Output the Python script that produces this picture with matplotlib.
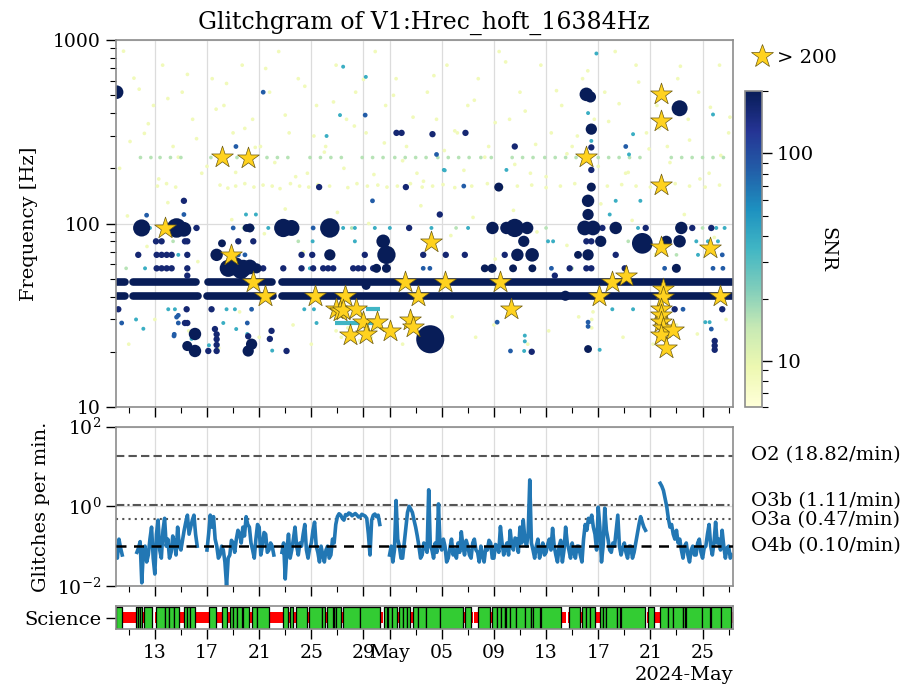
import datetime as dt
import numpy as np
import matplotlib
matplotlib.use("Agg")
import matplotlib.pyplot as plt
import matplotlib.dates as mdates
from matplotlib.colors import LogNorm
from matplotlib.lines import Line2D
from matplotlib.ticker import FixedLocator, NullLocator, NullFormatter, FuncFormatter

plt.rcParams["font.family"] = "DejaVu Serif"
plt.rcParams["mathtext.fontset"] = "dejavuserif"

# ---------------- data (times are days since 2024-04-10 00:00) ----------------
START = dt.datetime(2024, 4, 10)
SPAN = 47.33

# dense glitch bands (runs of loud glitches at fixed frequency)
band_t0 = [0.08, 1.30, 7.10, 12.72, 0.08, 1.30, 6.97, 12.72]
band_t1 = [0.71, 6.15, 11.95, 47.33, 0.71, 6.33, 12.08, 47.33]
band_f = [47.9, 47.9, 47.9, 47.9, 40.4, 40.4, 40.4, 40.4]

# moderate-SNR runs
run_t0 = [16.8, 19.2]
run_t1 = [20.0, 20.3]
run_f = [28.7, 34.1]
run_snr = 35

# loud isolated glitches (SNR close to 200) with their duration
loud_t = [0.07, 1.99, 4.67, 5.23, 12.85, 13.48, 16.42, 7.74, 8.63, 9.14, 9.6, 9.78,
          10.29, 10.8, 20.51, 20.76, 20.76, 19.2, 6.08, 5.49, 6.08, 10.16, 10.42, 24.12,
          36.09, 36.4, 36.47, 36.47, 36.22, 36.22, 29.37, 28.89, 29.96, 30.6, 31.55, 35.96,
          36.6, 38.34, 43.37, 31.29, 37.19, 40.38, 42.22, 43.24, 30.8, 31.93, 36.22, 43.24,
          34.48, 36.22, 28.3, 28.86, 30.47, 31.95, 42.99, 35.45, 8.15, 10.29, 10.04, 16.42,
          20.0]
loud_f = [520, 94.6, 94.6, 93, 94.6, 94.6, 94.6, 67.5, 57, 58.5, 55.5, 57,
          58, 57, 80, 67.5, 57, 46, 25, 21.5, 20.2, 20.2, 22, 23.4,
          506, 490, 327, 158, 133, 112, 158, 94.6, 94.6, 94.6, 94.6, 94.6,
          94.6, 94.6, 94.6, 80, 80, 78, 80, 80, 67.5, 67.5, 67.5, 425,
          40.4, 20.7, 57, 57, 57, 57, 57, 67.5, 78, 94.6, 94.6, 67.5,
          57]
loud_dur = [5.5, 7, 8, 6, 7.5, 6.5, 8, 5, 7, 7.5, 7, 7,
            6, 4, 5.5, 7.5, 3.5, 3.5, 5, 4, 5, 4.5, 4.5, 11.6,
            5.5, 4.5, 4.5, 3.5, 5, 4.5, 3.5, 5, 5, 7.5, 5, 6,
            6, 5, 5, 4.5, 4.5, 8.5, 4.5, 5, 5, 5.5, 4.5, 6.5,
            4, 3, 3, 3.5, 3, 3, 3.5, 3, 3, 3.5, 3, 4.5,
            3.5]
loud_snr = 198

# quieter glitches, grouped by SNR
navy_t = [3.09, 3.52, 5.31, 5.49, 9.4, 10.55, 1.73, 3.14, 3.52, 3.91, 4.29, 5.49, 14.25,
          15.07, 19.1, 3.14, 3.52, 3.91, 4.29, 5.49, 11.31, 12.85, 14.25, 15.14, 15.91,
          16.29, 16.68, 18.21, 18.6, 18.98, 19.74, 5.49, 22.5, 21.53, 21.92, 15.6, 22.25,
          5.23, 5.44, 7.35, 0.2, 7.61, 7.74, 7.74, 7.74, 7.74, 10.16, 11.82, 11.95, 7.1,
          13.1, 5.31, 5.49, 24.29, 26.82, 30.6, 24.85, 36.47, 36.47, 37.32, 40.64,
          44.21, 45.67, 36.09, 36.47, 23.58, 25.31, 26.77, 29.83, 38.34, 34.81, 36.09,
          36.47, 39.03, 33.67, 31.9, 42.86, 46.51, 45.93, 45.93, 45.93, 6.2]
navy_f = [80, 80, 80, 80, 80, 80, 67.5, 67.5, 67.5, 67.5, 67.5, 67.5, 67.5,
          67.5, 67.5, 57, 57, 57, 57, 57, 57, 57, 57, 57, 57,
          57, 57, 57, 57, 57, 57, 52, 94.6, 312, 312, 158, 158,
          133, 34.1, 34.1, 34.1, 26.6, 24.9, 23.4, 21.8, 20.2, 24.3, 23.5, 26, 20.2,
          20.2, 28.7, 28.7, 307, 312, 263, 112, 260, 196, 94.6, 94.6,
          94.6, 94.6, 80, 80, 67.5, 67.5, 67.5, 67.5, 67.5, 57, 57,
          57, 57, 52, 20.0, 34.1, 34.1, 22.9, 21.6, 20.5, 94.6]
navy_snr = 165

blue_t = [11.31, 9.22, 19.13, 19.69, 5.23, 6.15, 9.01, 15.14, 9.91, 10.42, 0.46, 4.8,
          4.8, 4.49, 10.09, 24.6, 26.69, 39.11, 23.58, 24.09, 33.41, 42.09, 45.8, 46.56,
          29.25, 30.27, 36.22, 36.22, 43.5, 45.67, 46.51, 9.4, 2.37, 4.67, 4.47]
blue_f = [520, 263, 390, 133, 112, 94.6, 94.6, 94.6, 67.5, 34.1, 28.7, 31.6,
          28.7, 24.9, 28.7, 238, 160, 263, 57, 57, 57, 57, 57, 57,
          29, 20.2, 29, 27.5, 34.1, 26.6, 67.5, 67.5, 111, 30.9, 24.4]
blue_snr = 85

cyan_t = [17.44, 19.18, 17.2, 16.17, 2.63, 17.44, 18.34, 19.87, 21.02, 18.34, 15.1, 4.8,
          2.25, 14.89, 14.46, 15.2, 8.5, 9.14, 4.03, 4.54, 1.56, 2.12, 8.25, 9.24, 15.4,
          7.15, 10.09, 12.0, 5.82, 9.99, 10.75, 36.86, 36.22, 36.47, 25.16, 29.96,
          39.67, 39.36, 37.88, 38.34, 40.23, 45.8, 24.21, 27.02, 46.05, 46.69, 40.05,
          33.15, 33.54, 44.52, 45.41, 46.18, 44.65, 31.37, 31.37, 31.32, 37.11, 38.08,
          45.54, 45.21, 39.67, 25.23, 10.5, 11.7]
cyan_f = [716, 630, 390, 300, 94.6, 94.6, 94.6, 94.6, 94.6, 80, 80, 67.5,
          57, 57, 34.1, 34.1, 34.1, 34.1, 34.1, 34.1, 30, 26.7, 28.7, 26.6, 28.7,
          21.7, 25, 20.3, 23.5, 112, 112, 845, 400, 282, 196, 196,
          307, 238, 112, 133, 133, 393, 94.6, 94.6, 94.6, 94.6, 94.6,
          80, 80, 80, 80, 80, 67.5, 24.5, 22.8, 20.2, 20.5, 34.1,
          29, 29, 34.1, 195, 94.6, 94.6]
cyan_snr = 38

green_t = [1.9, 2.7, 3.4, 4.2, 5.0, 7.3, 8.0, 9.3, 10.1, 11.6, 12.4, 13.2, 14.9, 15.7,
           16.5, 17.3, 18.9, 19.7, 20.5, 21.4, 22.2, 23.0, 23.8, 24.7, 25.5, 26.3, 27.1,
           28.0, 28.8, 30.4, 31.2, 32.0, 32.9, 33.7, 34.5, 35.3, 37.0, 37.8, 38.6, 39.4,
           40.2, 42.6, 43.4, 44.2, 45.0, 45.8, 46.6,
           0.8, 4.4, 9.8, 14.0, 18.1, 24.3, 26.1, 28.2, 33.0, 35.0, 39.3, 43.0, 45.0]
green_f = [229] * 47 + [57, 80, 94.6, 80, 94.6, 80, 94.6, 57, 94.6, 57, 80, 67.5, 94.6]
green_snr = 16

faint_t = [3.2, 3.9, 4.6, 8.0, 8.6, 9.2, 9.9, 10.6, 11.3, 12.0, 12.6, 13.4, 14.1, 14.8,
           15.5, 16.4, 17.8, 18.5, 19.3, 20.1, 20.8, 21.6, 22.6, 23.5, 24.3, 25.1, 26.0,
           27.3, 28.5, 29.6, 30.8, 31.9, 33.0, 34.1, 35.2, 36.6, 37.7, 38.8, 39.9, 41.0,
           42.9, 44.0, 45.2, 46.3,
           0.6, 1.4, 2.2, 2.9, 3.6, 4.4, 5.1, 5.9, 6.6, 7.4, 8.3, 9.0, 9.7, 10.5, 11.1,
           11.8, 12.5, 13.3, 14.0, 14.7, 15.4, 16.1, 16.9, 17.7, 18.4, 19.2, 19.9, 20.7,
           21.5, 22.3, 23.1, 23.9, 24.6, 25.4, 26.2, 27.0, 27.8, 28.6, 29.4, 30.2, 31.0,
           31.8, 32.6, 33.4, 34.2, 35.0, 35.8, 36.7, 37.5, 38.3, 39.1, 39.9, 40.7, 41.5,
           42.3, 43.1, 43.9, 44.7, 45.5, 46.3, 47.0,
           1.0, 3.0, 5.6, 7.9, 9.5, 11.0, 13.6, 15.0, 16.9, 17.3, 17.8, 18.2, 18.7, 19.1,
           19.6, 20.0, 22.0, 25.8, 27.6, 29.0, 31.6, 33.2, 35.5, 36.5, 36.5, 36.6, 38.9,
           41.2, 43.0, 44.6, 46.8,
           0.9, 2.4, 4.0, 6.3, 8.9, 11.4, 13.0, 14.4, 17.0, 19.4, 21.2, 23.4, 25.7, 27.4,
           29.1, 30.5, 32.3, 34.6, 37.2, 39.6, 41.4, 43.6, 45.9,
           0.3, 1.1, 1.8, 2.5, 3.3, 4.0, 4.8, 5.5, 6.2, 7.0, 7.7, 8.5, 9.2, 9.9, 10.7,
           11.5, 12.2, 13.0, 13.8, 14.5, 15.2, 16.0, 16.7, 17.5, 18.3, 19.0, 19.8, 20.6,
           21.3, 22.0, 22.8, 23.6, 24.4, 25.2, 26.0, 26.7, 27.5, 28.3, 29.1, 29.9, 30.6,
           31.4, 32.2, 33.0, 33.8, 34.6, 35.4, 36.2, 37.0, 37.8, 38.6, 39.3, 40.1, 40.9,
           41.7, 42.5, 43.3, 44.0, 44.8, 45.6, 46.4, 47.1]
faint_f = [160, 165, 158, 162, 156, 160, 165, 158, 162, 160, 155, 165, 160, 158,
           163, 160, 157, 165, 160, 162, 158, 160, 165, 158, 160, 163, 157,
           160, 165, 158, 160, 162, 157, 160, 165, 158, 160, 163, 160, 158,
           165, 160, 158, 162,
           870, 620, 310, 440, 730, 263, 520, 370, 188, 616, 440, 312, 730, 370, 263,
           520, 866, 312, 616, 188, 440, 263, 730, 370, 520, 312, 866, 440,
           616, 263, 188, 520, 370, 730, 312, 440, 616, 263, 866, 370, 520,
           188, 730, 312, 440, 263, 616, 370, 520, 866, 188, 730, 312, 440,
           263, 616, 370, 520, 188, 730, 312,
           22, 30, 26, 21, 33, 24, 28, 22, 26, 24, 27, 25, 23, 26,
           24, 27, 22, 31, 24, 28, 22, 26, 31, 30, 27, 33, 24,
           22, 28, 25, 30,
           110, 75, 130, 62, 105, 88, 120, 70, 115, 100, 72, 125, 86, 108,
           64, 118, 90, 76, 128, 104, 68, 112, 84,
           200, 280, 540, 350, 175, 480, 230, 650, 290, 205, 420, 580, 190, 330, 260,
           700, 215, 390, 180, 560, 300, 245, 460, 200, 340, 610, 185, 275,
           500, 220, 380, 170, 640, 250, 320, 195, 470, 230, 355, 760, 210,
           410, 270, 180, 530, 240, 300, 680, 205, 360, 450, 190, 590, 255,
           330, 215, 720, 285, 175, 430, 235, 380]
faint_snr = 8.5

# glitches louder than SNR 200
star_t = [3.78, 8.17, 10.16, 8.81, 10.50, 11.47, 15.32, 17.6, 16.93, 17.2, 17.44, 18.41,
          18.98, 20.0, 17.95, 19.18, 21.02, 22.17, 23.19, 22.55, 22.81, 24.16, 25.27, 29.45,
          30.34, 36.09, 37.06, 38.06, 39.16, 41.84, 41.84, 41.84, 41.84, 41.97, 41.97, 41.84,
          41.84, 41.84, 41.97, 41.84, 42.73, 42.22, 45.54, 46.31]
star_f = [94.6, 231, 228, 67.5, 48.2, 40.4, 40.4, 40.4, 34.1, 33.5, 33.8, 34.1,
          29, 29, 24.8, 25, 25.9, 48.2, 40.4, 29.9, 27.4, 79.6, 48.2, 48.2,
          34.1, 231, 40.4, 48.2, 52, 506, 362, 162, 74.8, 44, 40, 34.4,
          31.6, 29, 26.8, 24.8, 26.3, 21.1, 73.6, 40.4]

# glitch rate per minute, one sample every 3 hours from START (nan = no data)
RATE_STEP = 0.125
nan = np.nan
rate = [0.10, 0.05, 0.15, 0.09, 0.06, nan, nan, nan, nan, nan, nan, nan, nan, 0.07, 0.09, 0.13,
        0.012, 0.08, 0.10, 0.04, 0.06, 0.15, 0.30, 0.05, 0.02, 0.20, 0.45, 0.08, 0.05, 0.25, 0.50, 0.10,
        0.15, 0.05, 0.07, 0.18, 0.12, 0.06, 0.30, 0.10, 0.08, 0.14, 0.25, 0.40, 0.60, 0.20, 0.30, 0.45,
        0.60, 0.20, 0.10, nan, nan, nan, nan, nan, 0.08, 0.20, 0.60, 0.30, 0.55, 0.15, 0.10, 0.05,
        0.06, 0.10, 0.08, 0.04, 0.010, 0.05, 0.06, 0.14, 0.12, 0.07, 0.15, 0.25, 0.20, 0.12, 0.30, 0.18,
        0.55, 0.35, 0.30, 0.12, 0.08, 0.05, 0.15, 0.35, 0.30, 0.06, 0.10, 0.22, 0.20, 0.07, 0.08, 0.12,
        0.10, 0.06, nan, nan, nan, nan, 0.07, 0.12, 0.015, 0.08, 0.20, 0.05, 0.08, 0.15, 0.30, 0.10,
        0.06, 0.12, 0.10, 0.20, 0.35, 0.08, 0.05, 0.09, 0.12, 0.25, 0.40, 0.10, 0.07, 0.04, 0.10, 0.06,
        0.04, 0.08, 0.10, 0.05, 0.06, 0.15, 0.12, 0.35, 0.55, 0.65, 0.60, 0.50, 0.45, 0.62, 0.60, 0.68,
        0.65, 0.58, 0.62, 0.66, 0.60, 0.54, 0.55, 0.63, 0.60, 0.57, 0.50, 0.20, 0.06, 0.45, 0.60, 0.64,
        0.55, 0.60, 0.35, nan, nan, nan, nan, nan, 0.06, 0.10, 0.04, 0.08, 1.40, 0.15, 0.10, 0.05,
        0.05, 0.12, 0.30, 0.70, 1.00, 0.85, 0.70, 0.45, 0.30, 0.18, 0.10, 0.05, 0.06, 0.12, 0.10, 0.07,
        2.60, 0.10, 0.08, 0.05, 0.12, 0.07, 1.15, 0.10, 0.08, 0.15, 0.10, 0.04, 0.05, 0.09, 0.15, 0.06,
        0.08, 0.05, 0.12, 0.07, 0.23, 0.10, 0.06, 0.14, 0.10, 0.06, 0.05, 0.12, 0.15, 0.08, 0.07, 0.04,
        0.10, 0.06, 0.04, 0.09, 0.08, 0.14, 0.12, 0.05, 0.05, 0.11, 0.10, 0.07, 0.31, 0.12, 0.06, 0.09,
        0.12, 0.06, 0.25, 0.10, 0.08, 0.16, 0.15, 0.07, 0.30, 0.12, 0.45, 0.15, 0.10, 0.20, 4.60, 0.12,
        0.08, 0.05, 0.10, 0.15, 0.05, 0.08, 0.12, 0.06, 0.07, 0.11, 0.15, 0.08, 0.28, 0.10, 0.06, 0.04,
        0.10, 0.14, 0.04, 0.08, 0.30, 0.12, 0.08, 0.05, 0.12, 0.07, 0.05, 0.10, 0.10, 0.06, 0.04, 0.15,
        0.35, 0.25, 0.50, 0.40, 0.60, 0.30, 0.20, 0.08, 0.95, 0.30, 0.04, 0.10, 0.90, 0.25, 0.15, 0.08,
        0.07, 0.12, 0.10, 0.25, 0.60, 0.10, 0.06, 0.09, 0.12, 0.07, 0.05, 0.10, 0.10, 0.05, 0.07, 0.12,
        0.20, 0.35, 0.55, 0.40, 0.30, 0.25, nan, nan, nan, nan, nan, nan, nan, nan, 3.80, 3.20,
        2.50, 1.60, 1.00, 0.50, 0.30, 0.35, 0.20, 0.15, 0.25, 0.12, 0.15, 0.08, 0.05, 0.10, 0.12, 0.06,
        0.04, 0.08, 0.10, 0.06, 0.06, 0.12, 0.15, 0.07, 0.05, 0.09, 0.10, 0.20, 0.35, 0.10, 0.06, 0.12,
        0.40, 0.12, 0.15, 0.08, 0.25, 0.10, 0.05, 0.09, 0.10, 0.05, 0.06]

ref_names = ["O2", "O3b", "O3a", "O4b"]
ref_rates = [18.82, 1.11, 0.47, 0.10]

# science segments (days)
active = [(0.00, 0.51), (1.53, 1.73), (1.73, 1.86), (1.86, 2.04), (2.19, 2.80), (3.07, 3.78),
          (3.78, 4.11), (4.11, 4.47), (4.47, 4.85), (5.23, 5.44), (5.44, 5.69), (5.69, 6.08),
          (7.17, 7.69), (8.12, 8.50), (8.76, 9.01), (9.01, 9.32), (9.32, 9.66), (9.78, 10.24),
          (10.42, 10.80), (10.80, 11.77), (12.84, 13.23), (13.36, 13.56), (13.82, 14.64),
          (14.81, 15.79), (15.79, 16.04), (16.17, 16.63), (16.73, 16.88), (16.93, 17.24),
          (17.44, 18.77), (18.77, 20.25), (20.56, 20.77), (20.89, 21.15), (21.15, 21.58),
          (21.73, 22.04), (22.04, 22.35), (22.35, 22.60), (22.81, 23.19), (23.19, 23.83),
          (23.83, 24.85), (24.85, 26.64), (26.77, 27.28), (27.79, 28.68), (28.89, 29.20),
          (29.20, 29.58), (29.58, 29.83), (29.83, 29.96), (29.96, 30.21), (30.21, 30.73),
          (30.73, 31.36), (31.36, 31.88), (31.88, 32.00), (32.00, 32.51), (32.64, 34.18),
          (34.76, 35.58), (35.79, 36.09), (36.09, 36.35), (36.35, 36.73), (37.11, 37.36),
          (37.36, 37.62), (37.62, 38.44), (38.44, 38.70), (38.77, 40.56), (40.81, 41.25),
          (41.76, 42.34), (42.34, 42.73), (42.73, 43.49), (43.49, 43.62), (43.75, 44.95),
          (44.95, 45.54), (45.67, 46.44), (46.44, 47.20)]
known = [(0.00, 2.80), (3.01, 20.46), (20.56, 20.77), (20.89, 27.36), (27.46, 34.56),
         (34.70, 40.56), (40.75, 47.33)]

# ---------------- plotting ----------------
T0 = mdates.date2num(START)
LABEL_FS = 14
TICK_FS = 13.5


def days(v):
    return T0 + np.asarray(v, dtype=float)


cmap = plt.get_cmap("YlGnBu")
norm = LogNorm(vmin=6, vmax=200)
SPINE = "#8c8c8c"

fig = plt.figure(figsize=(9.06, 6.91), dpi=100)
ax = fig.add_axes([0.1277, 0.411, 0.6813, 0.531])
cax = fig.add_axes([0.8223, 0.411, 0.0188, 0.4573])
ax2 = fig.add_axes([0.1277, 0.152, 0.6813, 0.2305])
ax3 = fig.add_axes([0.1277, 0.0893, 0.6813, 0.0338])


def size(dur):
    return 5 + 3 * np.asarray(dur, dtype=float) ** 2


def glitches(t, f, snr, s, z):
    ax.scatter(days(t), f, c=np.full(len(t), snr), cmap=cmap, norm=norm, s=s,
               linewidths=0, zorder=z)


glitches(faint_t, faint_f, faint_snr, 7, 1)
glitches(green_t, green_f, green_snr, 7, 1.1)
ax.hlines(run_f, days(run_t0), days(run_t1), colors=[cmap(norm(run_snr))], lw=3, zorder=1.5)
glitches(cyan_t, cyan_f, cyan_snr, size(1.0), 2)
glitches(blue_t, blue_f, blue_snr, size(1.5), 2.1)
ax.hlines(band_f, days(band_t0), days(band_t1), colors=[cmap(norm(200))], lw=5.5,
          capstyle="round", zorder=2.2)
glitches(navy_t, navy_f, navy_snr, size(2.3), 2.3)
ax.scatter(days(loud_t), loud_f, c=np.full(len(loud_t), loud_snr), cmap=cmap, norm=norm,
           s=size(loud_dur), linewidths=0, zorder=2.4)
ax.scatter(days(star_t), star_f, marker="*", s=270, facecolor="#ffd21f",
           edgecolor="#6b5a10", linewidths=0.5, zorder=3)

ax.set_yscale("log")
ax.set_ylim(10, 1000)
ax.yaxis.set_major_formatter(FuncFormatter(lambda v, _: f"{v:g}"))
ax.yaxis.set_minor_formatter(NullFormatter())
ax.set_ylabel("Frequency [Hz]", fontsize=LABEL_FS, labelpad=11)
ax.set_title("Glitchgram of V1:Hrec_hoft_16384Hz", fontsize=17, pad=8)
ax.grid(True, which="major", color="#dcdcdc", lw=0.9)
ax.set_axisbelow(True)

star_handle = Line2D([], [], marker="*", ls="", markersize=17, markerfacecolor="#ffd21f",
                     markeredgecolor="#6b5a10", markeredgewidth=0.5)
ax.legend([star_handle], ["> 200"], loc="center left", bbox_to_anchor=(1.032, 0.951),
          frameon=False, fontsize=LABEL_FS, handlelength=1.0, handletextpad=0.25,
          borderpad=0, borderaxespad=0)

sm = plt.cm.ScalarMappable(norm=norm, cmap=cmap)
cb = fig.colorbar(sm, cax=cax)
cb.outline.set_edgecolor(SPINE)
cb.outline.set_linewidth(1.2)
cb.set_ticks([10, 100])
cb.set_ticklabels(["10", "100"])
cax.yaxis.set_minor_formatter(NullFormatter())
cax.tick_params(which="major", labelsize=LABEL_FS, length=7, width=1, direction="out")
cax.tick_params(which="minor", length=4, width=0.8, direction="out")
cb.set_label("SNR", rotation=270, fontsize=LABEL_FS, labelpad=16)

# rate panel
ax2.plot(days(np.arange(len(rate)) * RATE_STEP), rate, color="#2277b4", lw=2.6, zorder=2)
ref_styles = [dict(color="#555555", lw=1.5, dashes=[4, 2]),
              dict(color="#555555", lw=1.5, dashes=[4, 1.5, 1, 1.5]),
              dict(color="#555555", lw=1.5, dashes=[1, 2]),
              dict(color="black", lw=1.8, dashes=[4, 3])]
ref_text_y = [18.82, 1.39, 0.46, 0.099]
for name, val, sty, ty in zip(ref_names, ref_rates, ref_styles, ref_text_y):
    ax2.axhline(val, zorder=3 if name == "O4b" else 1.5, **sty)
    ax2.text(1.03, ty, f"{name} ({val:.2f}/min)", transform=ax2.get_yaxis_transform(),
             va="center", ha="left", fontsize=LABEL_FS)
ax2.set_yscale("log")
ax2.set_ylim(1e-2, 1e2)
ax2.yaxis.set_major_locator(FixedLocator([1e-2, 1e0, 1e2]))
ax2.yaxis.set_minor_locator(NullLocator())
ax2.set_ylabel("Glitches per min.", fontsize=LABEL_FS, labelpad=5)
ax2.grid(True, which="major", color="#dcdcdc", lw=0.9)
ax2.set_axisbelow(True)

# science segments
ax3.broken_barh([(T0 + a, b - a) for a, b in known], (0.25, 0.5), facecolors="#ff0000",
                edgecolor="none", zorder=1)
ax3.broken_barh([(T0 + a, b - a) for a, b in active], (0.03, 0.94), facecolors="#33cc33",
                edgecolor="black", linewidth=0.9, zorder=2)
ax3.set_ylim(0, 1)
ax3.set_yticks([0.5])
ax3.set_yticklabels(["Science"], fontsize=LABEL_FS)

for a in (ax, ax2, ax3):
    a.set_xlim(T0, T0 + SPAN)
    a.xaxis.set_major_locator(mdates.DayLocator(bymonthday=[1, 5, 9, 13, 17, 21, 25, 29]))
    a.xaxis.set_minor_locator(mdates.DayLocator(bymonthday=[3, 7, 11, 15, 19, 23, 27]))
    a.tick_params(which="major", length=7, width=1, direction="out", labelsize=TICK_FS)
    a.tick_params(which="minor", length=4, width=0.8, direction="out")
    for sp in a.spines.values():
        sp.set_color(SPINE)
        sp.set_linewidth(1.2)
ax3.tick_params(axis="y", labelsize=LABEL_FS)
for a in (ax, ax2):
    a.xaxis.set_major_formatter(NullFormatter())
fmt = mdates.ConciseDateFormatter(ax3.xaxis.get_major_locator())
ax3.xaxis.set_major_formatter(fmt)
ax3.xaxis.get_offset_text().set_fontsize(LABEL_FS)

fig.savefig("out.png", dpi=100)
